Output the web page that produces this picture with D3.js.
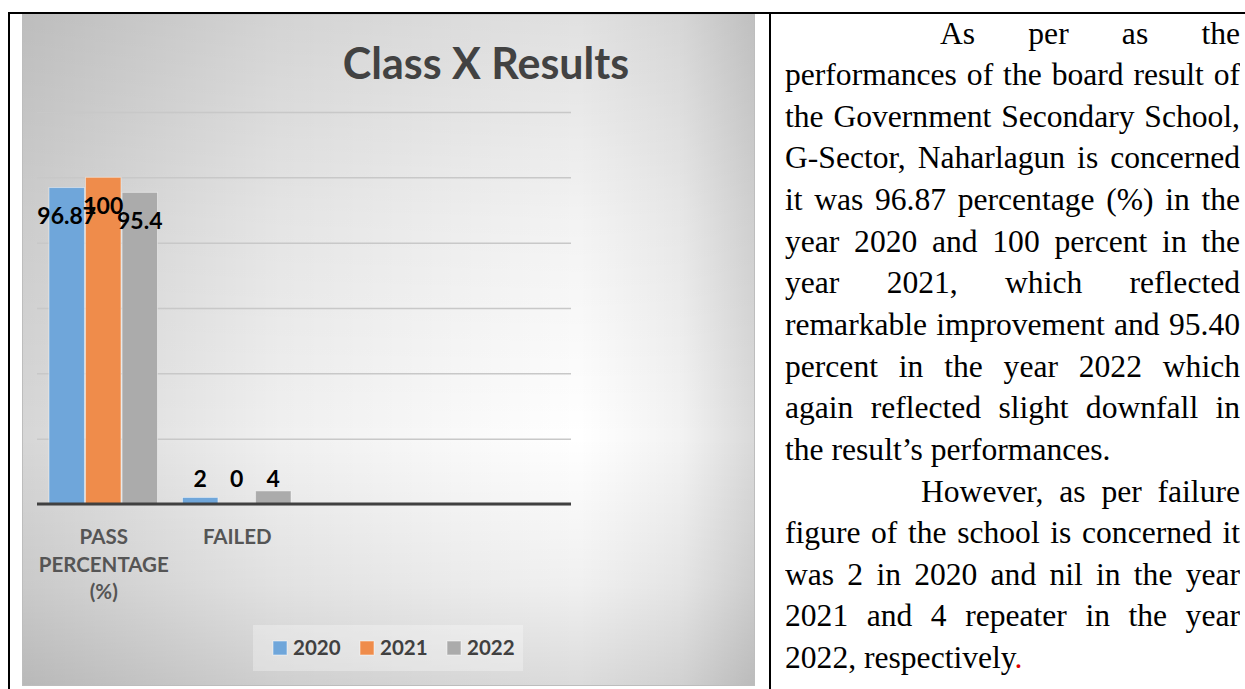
<!DOCTYPE html>
<html>
<head>
<meta charset="utf-8">
<script src="https://cdn.jsdelivr.net/npm/d3@7"></script>
<style>
  body { margin: 0; background: #fff; }
  #page { position: relative; width: 1245px; height: 689px; overflow: hidden; }
  #page svg { position: absolute; left: 0; top: 0; }
  #txt { position: absolute; left: 785px; top: 12.5px; width: 455px;
         font-family: "Liberation Serif", "Times New Roman", serif; font-size: 31.6px; color: #000; }
  #txt div { height: 41.65px; line-height: 41.65px; white-space: nowrap; }
  #txt div.j { text-align: justify; text-align-last: justify; white-space: normal; overflow: hidden; }
  .red { color: #e00000; }
</style>
</head>
<body>
<div id="page"></div>
<script>
// chart data
const title = 'Class X Results';
const categories = ['PASS PERCENTAGE (%)', 'FAILED'];
const categoryLines = [['PASS', 'PERCENTAGE', '(%)'], ['FAILED']];
const years = ['2020', '2021', '2022'];
const values2020 = [96.87, 2];
const values2021 = [100, 0];
const values2022 = [95.4, 4];
const labels2020 = ['96.87', '2'];
const labels2021 = ['100', '0'];
const labels2022 = ['95.4', '4'];
const yTicks = [0, 20, 40, 60, 80, 100, 120];
const colors = ['#6fa6da', '#ef8c4b', '#ababab'];

// text of the right cell, line by line as in the document
const textLines = [
  {t: 'As per as the', indent: 155, j: true},
  {t: 'performances of the board result of', j: true},
  {t: 'the Government Secondary School,', j: true},
  {t: 'G-Sector, Naharlagun is concerned', j: true},
  {t: 'it was 96.87 percentage (%) in the', j: true},
  {t: 'year 2020 and 100 percent in the', j: true},
  {t: 'year 2021, which reflected', j: true},
  {t: 'remarkable improvement and 95.40', j: true},
  {t: 'percent in the year 2022 which', j: true},
  {t: 'again reflected slight downfall in', j: true},
  {t: 'the result\u2019s performances.', j: false},
  {t: 'However, as per failure', indent: 136, j: true},
  {t: 'figure of the school is concerned it', j: true},
  {t: 'was 2 in 2020 and nil in the year', j: true},
  {t: '2021 and 4 repeater in the year', j: true},
  {t: '2022, respectively', j: false, redEnd: '.'}
];

const series = [values2020, values2021, values2022];
const seriesLabels = [labels2020, labels2021, labels2022];

const W = 1245, H = 689;
const page = d3.select('#page');
const svg = page.append('svg').attr('width', W).attr('height', H);

// chart area box
const area = {x: 22, y: 14, w: 733, h: 672};
const defs = svg.append('defs');
const hGrad = defs.append('linearGradient').attr('id', 'hshade').attr('x1', 0).attr('x2', 1).attr('y1', 0).attr('y2', 0);
[[0, 0.16], [0.35, 0.06], [0.76, 0], [0.9, 0.05], [1, 0.15]].forEach(([o, a]) =>
  hGrad.append('stop').attr('offset', o).attr('stop-color', '#000').attr('stop-opacity', a));
const vGrad = defs.append('linearGradient').attr('id', 'vshade').attr('x1', 0).attr('x2', 0).attr('y1', 0).attr('y2', 1);
[[0, 0.12], [0.3, 0.05], [0.63, 0], [0.85, 0.06], [1, 0.14]].forEach(([o, a]) =>
  vGrad.append('stop').attr('offset', o).attr('stop-color', '#000').attr('stop-opacity', a));

svg.append('rect').attr('x', area.x).attr('y', area.y).attr('width', area.w).attr('height', area.h).attr('fill', '#fff');
svg.append('rect').attr('x', area.x).attr('y', area.y).attr('width', area.w).attr('height', area.h).attr('fill', 'url(#hshade)');
svg.append('rect').attr('x', area.x).attr('y', area.y).attr('width', area.w).attr('height', area.h).attr('fill', 'url(#vshade)');
svg.append('rect').attr('x', area.x + 0.5).attr('y', area.y).attr('width', area.w - 1).attr('height', area.h - 0.5)
  .attr('fill', 'none').attr('stroke', '#bdbdbd').attr('stroke-width', 1);

// table borders
svg.append('line').attr('x1', 8).attr('x2', W).attr('y1', 13).attr('y2', 13).attr('stroke', '#000').attr('stroke-width', 2);
svg.append('line').attr('x1', 9).attr('x2', 9).attr('y1', 12).attr('y2', H).attr('stroke', '#000').attr('stroke-width', 2);
svg.append('line').attr('x1', 770).attr('x2', 770).attr('y1', 12).attr('y2', H).attr('stroke', '#000').attr('stroke-width', 2);

// plot
const plot = {left: 37, right: 571, top: 112, bottom: 504};
const slots = 4; // the sheet had two empty rows after FAILED
const x0 = d3.scaleBand().domain(d3.range(slots)).range([plot.left, plot.right]);
const x1 = d3.scaleBand().domain(years).range([12, x0.bandwidth() - 13]).paddingInner(0.03);
const y = d3.scaleLinear().domain([0, 120]).range([plot.bottom, plot.top]);

const g = svg.append('g');
const grid = g.append('g').attr('transform', `translate(${plot.left},0)`)
  .call(d3.axisLeft(y).tickValues(yTicks).tickSize(-(plot.right - plot.left)).tickFormat(''));
grid.select('.domain').remove();
grid.selectAll('line').attr('stroke', '#c8c8c8').attr('stroke-width', 1.5);

svg.append('text').attr('x', 486).attr('y', 79).attr('text-anchor', 'middle')
  .style('font', 'bold 43px Lato, "Open Sans", sans-serif').attr('fill', '#424242').text(title);

const bars = [];
categories.forEach((c, ci) => {
  years.forEach((yr, si) => {
    bars.push({ci, si, yr, v: series[si][ci], label: seriesLabels[si][ci]});
  });
});

g.selectAll('rect.bar').data(bars).enter().append('rect').attr('class', 'bar')
  .attr('x', d => x0(d.ci) + x1(d.yr))
  .attr('width', x1.bandwidth())
  .attr('y', d => y(d.v))
  .attr('height', d => y(0) - y(d.v))
  .attr('fill', (d) => colors[d.si])
  .attr('stroke', 'rgba(255,255,255,0.45)').attr('stroke-width', 1);

// axis line
g.append('line').attr('x1', plot.left).attr('x2', plot.right).attr('y1', y(0)).attr('y2', y(0))
  .attr('stroke', '#404040').attr('stroke-width', 3);

// data labels
g.selectAll('text.lbl').data(bars).enter().append('text').attr('class', 'lbl')
  .attr('x', d => x0(d.ci) + x1(d.yr) + x1.bandwidth() / 2)
  .attr('y', d => Math.min(y(d.v) + 28, y(0) - 25))
  .attr('dy', '0.36em').attr('text-anchor', 'middle')
  .style('font', 'bold 23px Lato, "Open Sans", sans-serif').attr('fill', '#000')
  .text(d => d.label);

// category labels
categoryLines.forEach((lines, ci) => {
  const t = g.append('text').attr('text-anchor', 'middle')
    .style('font', 'bold 20.5px Lato, "Open Sans", sans-serif').attr('fill', '#555');
  lines.forEach((ln, li) => {
    t.append('tspan').attr('x', x0(ci) + x0.bandwidth() / 2).attr('y', 544 + li * 27.5).text(ln);
  });
});

// legend
svg.append('rect').attr('x', 253).attr('y', 625).attr('width', 270).attr('height', 46)
  .attr('fill', '#fff').attr('fill-opacity', 0.3);
const leg = svg.selectAll('g.leg').data(years).enter().append('g').attr('class', 'leg')
  .attr('transform', (d, i) => `translate(${273 + i * 87},641)`);
leg.append('rect').attr('width', 14).attr('height', 14).attr('fill', (d, i) => colors[i])
  .attr('stroke', 'rgba(255,255,255,0.5)');
leg.append('text').attr('x', 20).attr('y', 7).attr('dy', '0.36em')
  .style('font', 'bold 20.5px Lato, "Open Sans", sans-serif').attr('fill', '#404040').text(d => d);

// right cell text
const txt = page.append('div').attr('id', 'txt');
txt.selectAll('div').data(textLines).enter().append('div')
  .attr('class', d => d.j ? 'j' : null)
  .style('padding-left', d => d.indent ? d.indent + 'px' : null)
  .each(function(d) {
    const el = d3.select(this);
    el.append('span').text(d.t);
    if (d.redEnd) el.append('span').attr('class', 'red').text(d.redEnd);
  });
</script>
</body>
</html>
